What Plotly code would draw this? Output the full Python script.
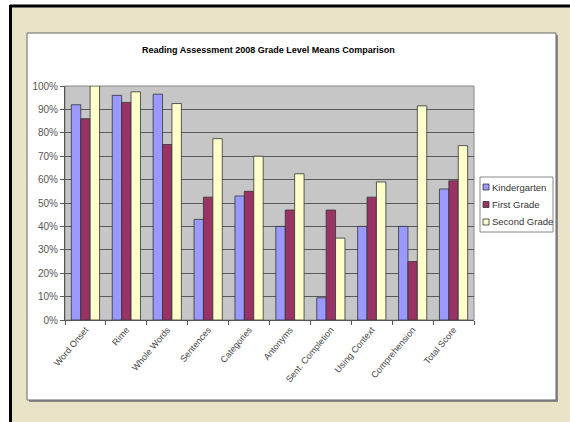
import plotly.graph_objects as go

categories = ["Word Onset", "Rime", "Whole Words", "Sentences", "Categories",
              "Antonyms", "Sent. Completion", "Using Context", "Comprehension", "Total Score"]
kindergarten = [0.92, 0.96, 0.965, 0.43, 0.53, 0.40, 0.095, 0.40, 0.40, 0.56]
first_grade = [0.86, 0.93, 0.75, 0.525, 0.55, 0.47, 0.47, 0.525, 0.25, 0.595]
second_grade = [1.00, 0.975, 0.925, 0.775, 0.70, 0.625, 0.35, 0.59, 0.915, 0.745]
series_names = ["Kindergarten", "First Grade", "Second Grade"]
series_colors = ["#9999FF", "#993366", "#FFFFCC"]
y_ticks = [i / 10 for i in range(11)]

W, H = 570, 422
L, R, T, B = 65, 96, 86, 102
PW, PH = W - L - R, H - T - B


def px(x):
    return (x - L) / PW


def py(y):
    return (H - B - y) / PH


fig = go.Figure()
for name, vals, col in zip(series_names, [kindergarten, first_grade, second_grade], series_colors):
    fig.add_trace(go.Bar(
        x=categories, y=vals, name=name, showlegend=False,
        marker=dict(color=col, line=dict(color="#333333", width=0.8)),
    ))

shapes = []
# outer beige panel
shapes.append(dict(type="rect", xref="paper", yref="paper", x0=px(11), x1=px(572), y0=py(6), y1=py(424),
                   fillcolor="#E8E3C7", line=dict(width=0), layer="below"))
# black frame lines
shapes.append(dict(type="line", xref="paper", yref="paper", x0=px(10), x1=px(572), y0=py(6), y1=py(6),
                   line=dict(color="#000000", width=3), layer="below"))
shapes.append(dict(type="line", xref="paper", yref="paper", x0=px(10.5), x1=px(10.5), y0=py(5), y1=py(424),
                   line=dict(color="#000000", width=3), layer="below"))
# chart area shadow + white area
shapes.append(dict(type="rect", xref="paper", yref="paper", x0=px(29), x1=px(558), y0=py(35), y1=py(402),
                   fillcolor="#8A8A8A", line=dict(width=0), layer="below"))
shapes.append(dict(type="rect", xref="paper", yref="paper", x0=px(27), x1=px(556), y0=py(33), y1=py(400),
                   fillcolor="#FFFFFF", line=dict(color="#666666", width=1), layer="below"))
# plot area gray
shapes.append(dict(type="rect", xref="paper", yref="paper", x0=0, x1=1, y0=0, y1=1,
                   fillcolor="#C6C6C6", line=dict(color="#888888", width=1), layer="below"))

# manual legend box
lx0, lx1, ly0, ly1 = 480, 553, 177, 232
shapes.append(dict(type="rect", xref="paper", yref="paper", x0=px(lx0), x1=px(lx1), y0=py(ly0), y1=py(ly1),
                   fillcolor="#FFFFFF", line=dict(color="#888888", width=1)))
annotations = []
entry_y = [187, 204.5, 222]
for name, col, ey in zip(series_names, series_colors, entry_y):
    shapes.append(dict(type="rect", xref="paper", yref="paper", x0=px(483), x1=px(489),
                       y0=py(ey - 3), y1=py(ey + 3), fillcolor=col, line=dict(color="#333333", width=0.8)))
    annotations.append(dict(xref="paper", yref="paper", x=px(490), y=py(ey), text=name, showarrow=False,
                            xanchor="left", yanchor="middle",
                            font=dict(family="Arial, Liberation Sans, sans-serif", size=9.5, color="#333333")))

annotations.append(dict(xref="paper", yref="paper", x=px(268), y=py(50),
                        text="<b>Reading Assessment 2008 Grade Level Means Comparison</b>", showarrow=False,
                        xanchor="center", yanchor="middle",
                        font=dict(family="Arial, Liberation Sans, sans-serif", size=9, color="#000000")))

fig.update_layout(
    width=W, height=H,
    margin=dict(l=L, r=R, t=T, b=B, autoexpand=False),
    paper_bgcolor="#FFFFFF",
    plot_bgcolor="rgba(0,0,0,0)",
    barmode="group",
    bargap=0.31,
    bargroupgap=0,
    shapes=shapes,
    annotations=annotations,
    showlegend=False,
    font=dict(family="Arial, Liberation Sans, sans-serif", color="#333333"),
)
fig.update_xaxes(
    type="category", tickson="boundaries", ticks="outside", ticklen=4, tickcolor="#555555",
    tickangle=-50, tickfont=dict(size=9, color="#444444"),
    showline=True, linecolor="#555555", linewidth=1, showgrid=False, zeroline=False,
)
fig.update_yaxes(
    range=[0, 1], tickvals=y_ticks, tickformat=".0%", ticks="outside", ticklen=4, tickcolor="#555555",
    tickfont=dict(size=10, color="#555555"),
    showline=True, linecolor="#555555", linewidth=1,
    showgrid=True, gridcolor="#5A5A5A", gridwidth=1, zeroline=False,
)

fig.write_html("out.html", config={"displayModeBar": False},
               post_script="document.body.style.margin='0';document.body.style.overflow='hidden';")
